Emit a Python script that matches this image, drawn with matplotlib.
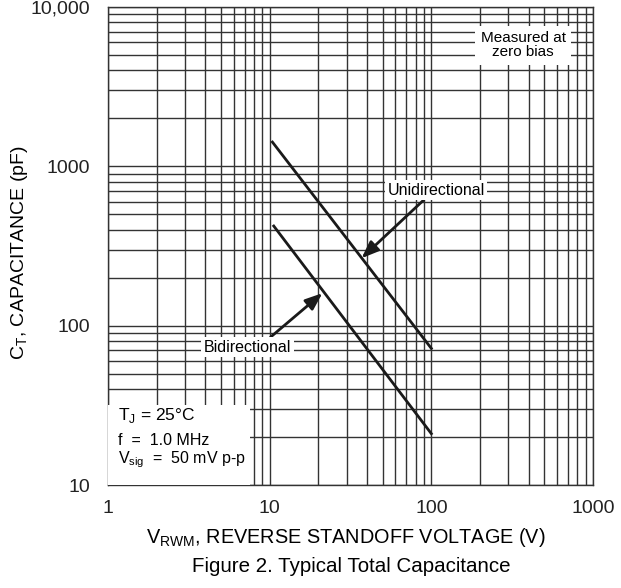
import numpy as np
import matplotlib.pyplot as plt
from matplotlib.ticker import FixedLocator, LogLocator, NullFormatter

plt.rcParams['font.family'] = ['Liberation Sans', 'DejaVu Sans']
plt.rcParams['mathtext.fontset'] = 'custom'
plt.rcParams['mathtext.rm'] = 'Liberation Sans'

# data
uni_v = [10.4, 100]
uni_c = [1420, 72]
bi_v = [10.6, 100]
bi_c = [422, 21]
x_ticks = [1, 10, 100, 1000]
x_labels = ['1', '10', '100', '1000']
y_ticks = [10, 100, 1000, 10000]
y_labels = ['10', '100', '1000', '10,000']

fig = plt.figure(figsize=(6.21, 5.88), dpi=100)
ax = fig.add_axes([108/621, 1-485/588, 485/621, 478/588])
ax.set_xscale('log')
ax.set_yscale('log')
ax.set_xlim(1, 1000)
ax.set_ylim(10, 10000)

ax.xaxis.set_major_locator(FixedLocator(x_ticks))
ax.set_xticklabels(x_labels)
ax.yaxis.set_major_locator(FixedLocator(y_ticks))
ax.set_yticklabels(y_labels)
ax.xaxis.set_minor_locator(LogLocator(base=10, subs=np.arange(2, 10)))
ax.yaxis.set_minor_locator(LogLocator(base=10, subs=np.arange(2, 10)))
ax.xaxis.set_minor_formatter(NullFormatter())
ax.yaxis.set_minor_formatter(NullFormatter())
ax.tick_params(which='both', length=0, labelsize=14, colors='#222222')
ax.tick_params(axis='x', pad=11)
ax.tick_params(axis='y', pad=13)
ax.grid(which='both', color='#333333', lw=1.0)
for s in ax.spines.values():
    s.set_color('#333333')
    s.set_linewidth(1.0)

ax.plot(uni_v, uni_c, color='#1a1a1a', lw=2.0, zorder=3)
ax.plot(bi_v, bi_c, color='#1a1a1a', lw=2.0, zorder=3)

box = dict(boxstyle='square,pad=0.15', fc='white', ec='none')
arr = dict(arrowstyle='-|>,head_length=0.9,head_width=0.35', color='#1a1a1a',
           lw=2.0, shrinkA=0, shrinkB=0)
ax.annotate('Unidirectional', xy=(37, 265), xytext=(107, 710), ha='center', va='center',
            fontsize=11.5, bbox=box, zorder=5,
            arrowprops=dict(arr, relpos=(0.4, 0.0)))
ax.annotate('Bidirectional', xy=(21.2, 160), xytext=(7.3, 73.4), ha='center', va='center',
            fontsize=11.5, bbox=box, zorder=5,
            arrowprops=dict(arr, relpos=(0.73, 1.0)))

ax.text(0.856, 0.92, 'Measured at\nzero bias', transform=ax.transAxes, ha='center',
        va='center', fontsize=11, linespacing=1.0,
        bbox=dict(boxstyle='square,pad=0.35', fc='white', ec='none'), zorder=5)

ax.add_patch(plt.Rectangle((0, 0), 0.293, 0.167, transform=ax.transAxes,
                           fc='white', ec='none', zorder=4))
ax.text(0.021, 0.146, r'T$_\mathrm{J}$ = 25°C', transform=ax.transAxes, va='center',
        fontsize=12.5, zorder=5)
ax.text(0.021, 0.094, 'f  =  1.0 MHz', transform=ax.transAxes, va='center',
        fontsize=11.5, zorder=5)
ax.text(0.021, 0.052, r'V$_\mathrm{sig}$  =  50 mV p-p', transform=ax.transAxes, va='center',
        fontsize=11.5, zorder=5)

ax.set_ylabel(r'C$_\mathrm{T}$, CAPACITANCE (pF)', fontsize=14)
ax.yaxis.set_label_coords(-0.161, 0.487)
ax.set_xlabel(r'V$_\mathrm{RWM}$, REVERSE STANDOFF VOLTAGE (V)', fontsize=14.3)
ax.xaxis.set_label_coords(0.49, -0.085)
fig.text(351/621, 1-566/588, 'Figure 2. Typical Total Capacitance', ha='center',
         va='center', fontsize=14.8)

fig.savefig('out.png', dpi=100)
